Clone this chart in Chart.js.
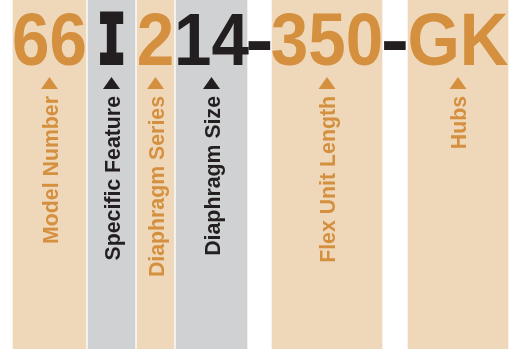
<!DOCTYPE html>
<html>
<head>
<meta charset="utf-8">
<script src="https://cdn.jsdelivr.net/npm/chart.js@4/dist/chart.umd.min.js"></script>
<style>
  html, body { margin: 0; padding: 0; background: #fff; }
  #wrap { width: 512px; height: 349px; }
</style>
</head>
<body>
<div id="wrap"><canvas id="part-number-chart" width="512" height="349"></canvas></div>
<script>
(function () {
    // part number segments, left to right
    const segmentCodes = ['66', 'I', '2', '14', '350', 'GK'];
    const segmentLabels = ['Model Number', 'Specific Feature', 'Diaphragm Series', 'Diaphragm Size', 'Flex Unit Length', 'Hubs'];
    const segmentStarts = [13, 88, 137, 176, 272, 408];
    const segmentEnds = [86, 135, 174, 247, 382, 508];
    const segmentGroups = ['base', 'option', 'base', 'option', 'base', 'base'];
    const hyphenBefore = [false, false, false, false, true, true];

    const fills = { base: '#efd8b9', option: '#d0d1d3' };
    const inks = { base: '#d4903f', option: '#231f20' };
    const dark = '#231f20';

    const canvas = document.getElementById('part-number-chart');
    if (!canvas || typeof Chart === 'undefined') return;

    const labelsPlugin = {
        id: 'partLabels',
        afterDatasetsDraw(chart) {
            const ctx = chart.ctx;
            const x = chart.scales.x;
            segmentCodes.forEach((code, i) => {
                const xs = x.getPixelForValue(segmentStarts[i]);
                const xe = x.getPixelForValue(segmentEnds[i]);
                const cx = (xs + xe) / 2;
                const ink = inks[segmentGroups[i]];

                // big code
                ctx.save();
                ctx.fillStyle = ink;
                ctx.strokeStyle = ink;
                ctx.textAlign = 'center';
                ctx.textBaseline = 'alphabetic';
                if (code === 'I') {
                    // slab I, thickened with a stroke
                    ctx.translate(cx, 63);
                    ctx.scale(0.7, 1);
                    ctx.font = 'bold 67px "DejaVu Sans Mono"';
                    ctx.lineWidth = 4;
                    ctx.lineJoin = 'miter';
                    ctx.fillText(code, 0, 0);
                    ctx.strokeText(code, 0, 0);
                } else {
                    ctx.translate(cx, 65);
                    ctx.scale(0.91, 1);
                    ctx.font = 'bold 74px "Liberation Sans"';
                    ctx.fillText(code, 0, 0);
                }
                ctx.restore();

                // hyphen between segments
                if (hyphenBefore[i]) {
                    const prevEnd = x.getPixelForValue(segmentEnds[i - 1]);
                    ctx.save();
                    ctx.translate((prevEnd + xs) / 2, 65);
                    ctx.scale(1.15, 1);
                    ctx.fillStyle = dark;
                    ctx.textAlign = 'center';
                    ctx.font = 'bold 74px "Liberation Sans"';
                    ctx.fillText('-', 0, 0);
                    ctx.restore();
                }

                // pointer triangle
                ctx.fillStyle = ink;
                ctx.beginPath();
                ctx.moveTo(cx, 77);
                ctx.lineTo(cx + 8.5, 89);
                ctx.lineTo(cx - 8.5, 89);
                ctx.closePath();
                ctx.fill();

                // rotated label
                ctx.save();
                ctx.translate(cx, 96);
                ctx.rotate(-Math.PI / 2);
                ctx.fillStyle = ink;
                ctx.textAlign = 'right';
                ctx.textBaseline = 'alphabetic';
                ctx.font = 'bold 21.3px "Liberation Sans"';
                ctx.fillText(segmentLabels[i], 0, 8);
                ctx.restore();
            });
        },
    };

    new Chart(canvas, {
        type: 'bar',
        data: {
            labels: ['part'],
            datasets: [{
                data: segmentCodes.map((code, i) => ({ x: [segmentStarts[i], segmentEnds[i]], y: 'part' })),
                backgroundColor: segmentGroups.map((g) => fills[g]),
                borderWidth: 0,
                barPercentage: 1,
                categoryPercentage: 1,
            }],
        },
        options: {
            indexAxis: 'y',
            responsive: false,
            animation: false,
            layout: { padding: 0 },
            scales: {
                x: { type: 'linear', min: 0, max: 512, display: false },
                y: { type: 'category', display: false, offset: true },
            },
            plugins: {
                legend: { display: false },
                tooltip: { enabled: false },
            },
        },
        plugins: [labelsPlugin],
    });
})();
</script>
</body>
</html>
